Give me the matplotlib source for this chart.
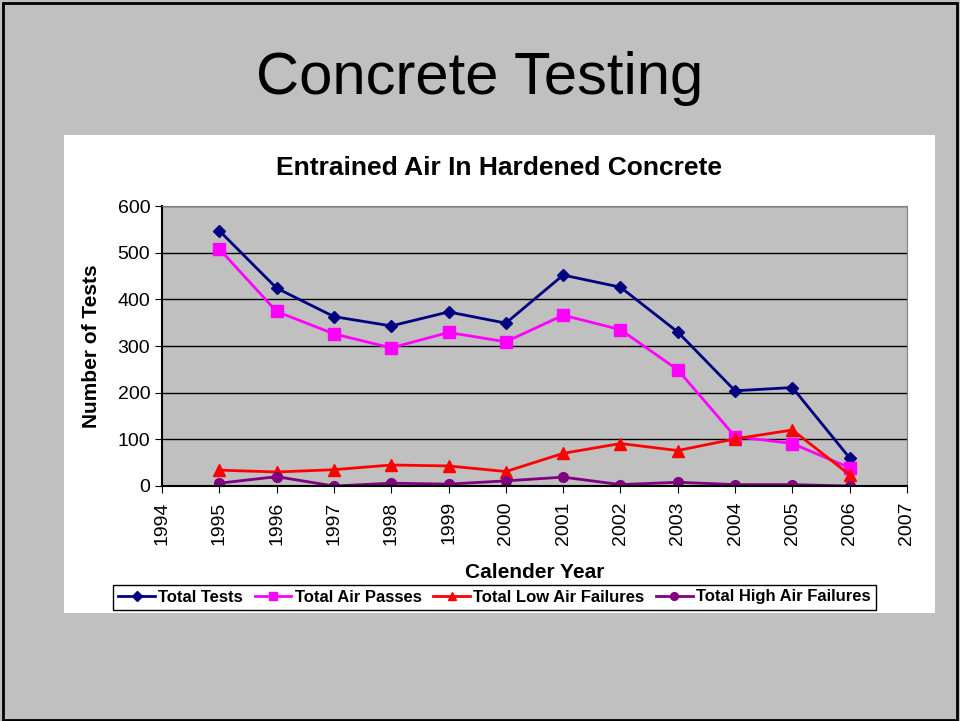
import matplotlib.pyplot as plt
from matplotlib.patches import Rectangle

plt.rcParams['font.family'] = ['Liberation Sans', 'DejaVu Sans']

years = [1995, 1996, 1997, 1998, 1999, 2000, 2001, 2002, 2003, 2004, 2005, 2006]
total_tests = [547, 424, 363, 343, 373, 349, 452, 426, 330, 204, 211, 60]
air_passes = [508, 374, 326, 296, 329, 309, 366, 335, 249, 106, 91, 39]
low_air = [34, 30, 35, 45, 43, 31, 70, 91, 76, 101, 120, 24]
high_air = [6, 20, 0, 6, 4, 11, 19, 3, 8, 3, 3, 0]
year_ticks = list(range(1994, 2008))

fig = plt.figure(figsize=(9.6, 7.21), dpi=100)
fig.patch.set_facecolor('#C0C0C0')

# slide border and white chart area
fig.patches.append(Rectangle((0.003, 0.001), 0.994, 0.995, transform=fig.transFigure,
                             fill=False, edgecolor='black', linewidth=2, zorder=-5))
fig.patches.append(Rectangle((64 / 960, 1 - 613 / 721), 871 / 960, 478 / 721,
                             transform=fig.transFigure, facecolor='white',
                             edgecolor='none', zorder=-10))

fig.text(0.5, 1 - 78 / 721, 'Concrete Testing', ha='center', va='center',
         fontsize=43)
fig.text(499 / 960, 1 - 168 / 721, 'Entrained Air In Hardened Concrete',
         ha='center', va='center', fontsize=19, fontweight='bold')

ax = fig.add_axes([162 / 960, 1 - 486 / 721, 745 / 960, 280 / 721])
ax.set_facecolor('#C0C0C0')

ax.plot(years, total_tests, color='#000080', marker='D', markersize=6, lw=2,
        label='Total Tests')
ax.plot(years, air_passes, color='#FF00FF', marker='s', markersize=8, lw=2,
        label='Total Air Passes')
ax.plot(years, low_air, color='#FF0000', marker='^', markersize=8, lw=2,
        label='Total Low Air Failures')
ax.plot(years, high_air, color='#800080', marker='o', markersize=7, lw=2,
        label='Total High Air Failures')

ax.set_xlim(1994, 2007)
ax.set_ylim(0, 600)
ax.set_yticks(range(0, 601, 100))
ax.set_xticks(year_ticks)
ax.set_xticklabels([str(y) for y in year_ticks], rotation=90)
ax.tick_params(labelsize=14, direction='out', length=5, color='black')
ax.tick_params(axis='x', pad=6)
ax.grid(axis='y', color='black', linewidth=1)
ax.set_axisbelow(True)
for s in ['top', 'right']:
    ax.spines[s].set_color('#808080')
for s in ['left', 'bottom']:
    ax.spines[s].set_color('black')
    ax.spines[s].set_linewidth(1.5)

ax.set_ylabel('Number of Tests', fontsize=15, fontweight='bold', labelpad=12)
ax.set_xlabel('Calender Year', fontsize=15, fontweight='bold', labelpad=13)

leg = fig.legend(loc='center', bbox_to_anchor=(0.515, 1 - 597 / 721), ncol=4,
                 frameon=True, fancybox=False, edgecolor='black', framealpha=1,
                 prop={'size': 12, 'weight': 'bold'}, handlelength=2.2,
                 handletextpad=0.2, columnspacing=0.7, borderpad=0.3,
                 markerscale=0.8)
leg.get_frame().set_linewidth(1)

fig.savefig('out.png', dpi=100, facecolor=fig.get_facecolor())
